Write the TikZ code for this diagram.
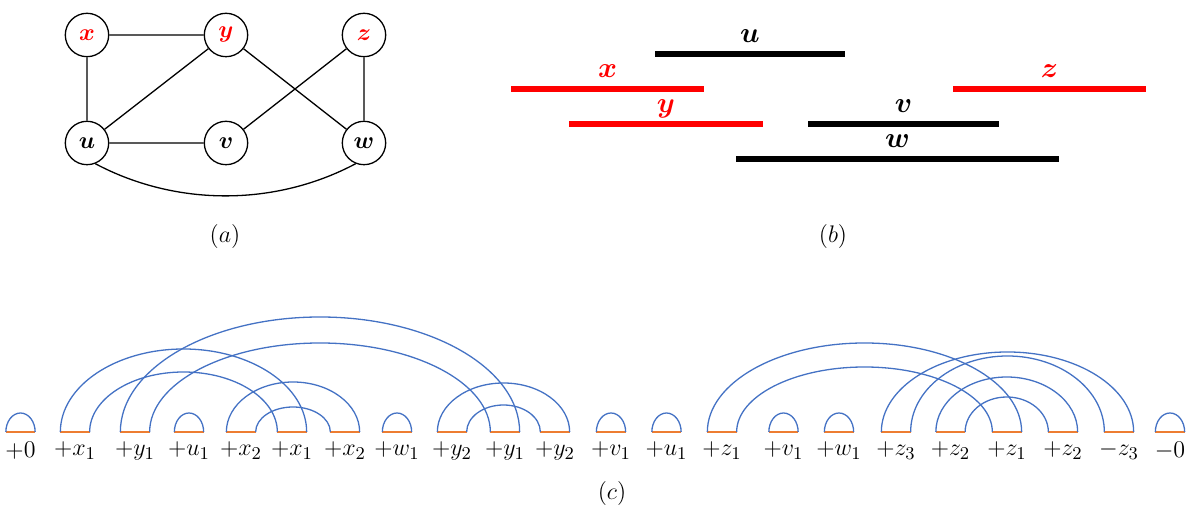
\documentclass[tikz,border=0pt]{standalone}
\usepackage{amsmath}
\usepackage{bm}
\usetikzlibrary{calc}

\definecolor{arcblue}{HTML}{4472C4}
\definecolor{segorange}{HTML}{ED7D31}

% one pair of concentric arcs between two segments
\newcommand{\band}[4]{%
  \draw[arcline] let \p1=(#1.west), \p2=(#2.east) in
    (\p1) arc[start angle=180, end angle=0, x radius={(\x2-\x1)/2}, y radius={#3*0.5pt}];
  \draw[arcline] let \p1=(#1.east), \p2=(#2.west) in
    (\p1) arc[start angle=180, end angle=0, x radius={(\x2-\x1)/2}, y radius={#4*0.5pt}];
}

\begin{document}
\begin{tikzpicture}[x=0.5pt, y=0.5pt,
    vtx/.style = {draw, circle, line width=0.65pt, minimum size=21.7pt, inner sep=0pt,
                  font=\fontsize{12}{14}\selectfont},
    edge/.style = {line width=0.65pt},
    bar/.style = {line width=3pt},
    barlab/.style = {anchor=base, yshift=5.75pt, inner sep=0pt,
                     font=\fontsize{15}{18}\selectfont},
    seg/.style = {minimum width=14.25pt, minimum height=0pt, inner sep=0pt},
    lab/.style = {inner sep=0pt, font=\fontsize{12.5}{15}\selectfont},
    arcline/.style = {arcblue, line width=0.65pt},
    capt/.style = {font=\fontsize{12}{14}\selectfont}
  ]
  \useasboundingbox (0,0) rectangle (1196,-512);

  % (a) the graph
  \node[vtx, text=red] (x) at (87,-35) {$\bm{x}$};
  \node[vtx, text=red] (y) at (226,-35) {$\bm{y}$};
  \node[vtx, text=red] (z) at (364,-35) {$\bm{z}$};
  \node[vtx] (u) at (87,-143) {$\bm{u}$};
  \node[vtx] (v) at (226,-143) {$\bm{v}$};
  \node[vtx] (w) at (364,-143) {$\bm{w}$};
  \draw[edge]
    (x) -- (y)
    (x) -- (u)
    (y) -- (u)
    (y) -- (w)
    (z) -- (v)
    (z) -- (w)
    (u) -- (v)
    (u.-68) to[out=-28, in=-152, looseness=0.9] (w.-112);
  \node[capt] (capa) at (225,-237) {$(a)$};

  % (b) the intervals
  \draw[bar] (655,-54.5) -- node[barlab] (lu) {$\bm{u}$} (845,-54.5);
  \draw[bar, red] (511,-89) -- node[barlab] (lx) {$\bm{x}$} (704,-89);
  \draw[bar, red] (953,-89) -- node[barlab] (lz) {$\bm{z}$} (1146,-89);
  \draw[bar, red] (569,-124) -- node[barlab] (ly) {$\bm{y}$} (763,-124);
  \draw[bar] (808,-124) -- node[barlab] (lv) {$\bm{v}$} (999,-124);
  \draw[bar] (736,-159) -- node[barlab] (lw) {$\bm{w}$} (1059,-159);
  \node[capt] (capb) at (833,-237) {$(b)$};

  % (c) the sequence
  \foreach \c/\t [count=\i] in {20.5/$+0$, 75/$+x_1$, 135/$+y_1$, 189/$+u_1$, 241/$+x_2$,
      292/$+x_1$, 345/$+x_2$, 397/$+w_1$, 452/$+y_2$, 505/$+y_1$, 555/$+y_2$,
      611/$+v_1$, 666.5/$+u_1$, 722/$+z_1$, 783.5/$+v_1$, 839/$+w_1$, 896/$+z_3$,
      950.5/$+z_2$, 1007/$+z_1$, 1063/$+z_2$, 1119/$-z_3$, 1170/$-0$}
  {
    \node[seg, label={[lab, label distance=4.5pt]below:\t}] (s\i) at (\c,-432) {};
    \draw[segorange, line width=0.9pt] (s\i.west) -- (s\i.east);
  }
  \foreach \s in {1,4,8,12,13,15,16,22}
    \draw[arcline] let \p1=(s\s.west), \p2=(s\s.east) in
      (\p1) arc[start angle=180, end angle=0, x radius={(\x2-\x1)/2}, y radius=9.5pt];
  \band{s2}{s6}{83}{60}
  \band{s3}{s10}{115}{89}
  \band{s5}{s7}{50}{25}
  \band{s9}{s11}{49}{27}
  \band{s14}{s19}{89}{65}
  \band{s17}{s21}{80}{76}
  \band{s18}{s20}{55}{35}
  \node[capt] (capc) at (612,-494) {$(c)$};
\end{tikzpicture}
\end{document}
